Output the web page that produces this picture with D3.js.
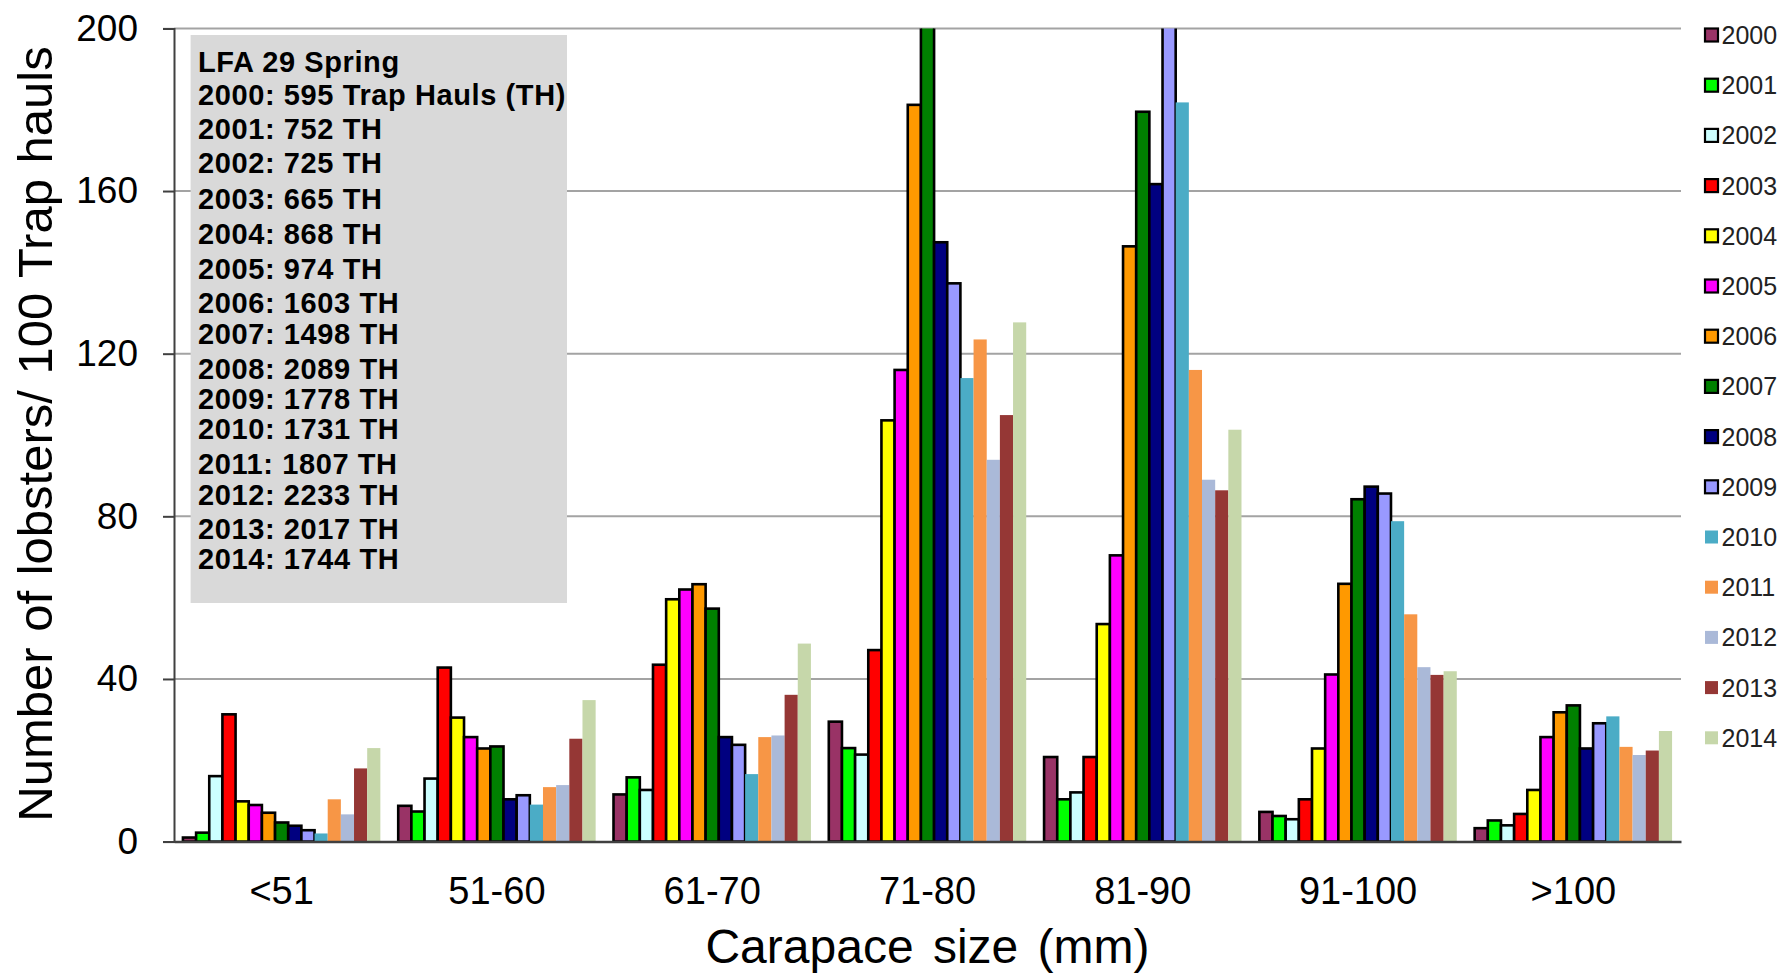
<!DOCTYPE html>
<html>
<head>
<meta charset="utf-8">
<script src="https://cdn.jsdelivr.net/npm/d3@7"></script>
<style>
  html, body { margin: 0; padding: 0; background: #ffffff; }
  svg { display: block; }
  text { font-family: "Liberation Sans", Arial, Helvetica, sans-serif; }
</style>
</head>
<body>
<svg id="chart" width="1781" height="979"></svg>
<script>
// ---------------- DATA ----------------
const categories = ["<51", "51-60", "61-70", "71-80", "81-90", "91-100", ">100"];
const years = ["2000","2001","2002","2003","2004","2005","2006","2007","2008","2009","2010","2011","2012","2013","2014"];

// Number of lobsters / 100 trap hauls, per carapace class (order of categories)
const v2000 = [1.0, 8.8, 11.6, 29.5, 20.8, 7.3, 3.3];
const v2001 = [2.2, 7.4, 15.8, 23.0, 10.4, 6.3, 5.2];
const v2002 = [16.1, 15.5, 12.7, 21.4, 12.1, 5.5, 4.0];
const v2003 = [31.3, 42.8, 43.5, 47.1, 20.8, 10.4, 6.8];
const v2004 = [9.9, 30.5, 59.6, 103.6, 53.5, 22.9, 12.7];
const v2005 = [9.0, 25.7, 62.0, 116.0, 70.4, 41.1, 25.7];
const v2006 = [7.1, 22.9, 63.3, 181.2, 146.4, 63.4, 31.8];
const v2007 = [4.7, 23.4, 57.3, 205.0, 179.5, 84.2, 33.5];   // 71-80 runs off the top of the axis
const v2008 = [3.9, 10.4, 25.7, 147.4, 161.7, 87.3, 22.9];
const v2009 = [2.8, 11.4, 23.8, 137.3, 205.0, 85.6, 29.1];   // 81-90 runs off the top of the axis
const v2010 = [2.0, 9.1, 16.6, 114.0, 181.8, 78.8, 30.8];
const v2011 = [10.4, 13.4, 25.7, 123.5, 116.0, 55.9, 23.3];
const v2012 = [6.7, 13.9, 26.1, 93.9, 89.0, 42.9, 21.3];
const v2013 = [18.0, 25.3, 36.1, 104.9, 86.4, 41.0, 22.4];
const v2014 = [23.0, 34.8, 48.7, 127.7, 101.3, 41.9, 27.2];

const yTicks = [0, 40, 80, 120, 160, 200];

const boxTitle = "LFA 29 Spring";
const trapHauls = [
  "2000: 595 Trap Hauls (TH)",
  "2001: 752 TH", "2002: 725 TH", "2003: 665 TH", "2004: 868 TH",
  "2005: 974 TH", "2006: 1603 TH", "2007: 1498 TH", "2008: 2089 TH",
  "2009: 1778 TH", "2010: 1731 TH", "2011: 1807 TH", "2012: 2233 TH",
  "2013: 2017 TH", "2014: 1744 TH"
];

const xTitle = "Carapace size (mm)";
const yTitle = "Number of lobsters/ 100 Trap hauls";

// ---------------- STYLE / LAYOUT ----------------
const colors = ["#993366","#00FF00","#CCFFFF","#FF0000","#FFFF00","#FF00FF","#FF9900","#008000",
                "#000080","#9999FF","#4BACC6","#F79646","#AAB9D8","#953735","#C6D7AA"];
const outlined = years.map((y, i) => i < 10);   // 2000-2009 have black borders

const seriesVals = [v2000,v2001,v2002,v2003,v2004,v2005,v2006,v2007,v2008,v2009,v2010,v2011,v2012,v2013,v2014];

const plot = { left: 174, right: 1681, top: 28.4, bottom: 841.6 };
// text-box line baselines (irregular in the original)
const boxBaselines = [72, 105, 139, 173, 209, 243.5, 278.5, 312.5, 343.5, 378.5, 409, 439, 474, 505, 539, 568.5];

// ---------------- CHART ----------------
const svg = d3.select("#chart");

const x0 = d3.scaleBand().domain(categories)
  .range([plot.left, plot.right]).paddingInner(0.083).paddingOuter(0.0415);
const x1 = d3.scaleBand().domain(years).range([0, x0.bandwidth()]).padding(0);
const y = d3.scaleLinear().domain([0, 200]).range([plot.bottom, plot.top]);

// gridlines
svg.append("g").selectAll("line").data(yTicks.filter(d => d > 0)).join("line")
  .attr("x1", plot.left).attr("x2", plot.right)
  .attr("y1", d => y(d)).attr("y2", d => y(d))
  .attr("stroke", "#a3a3a3").attr("stroke-width", 2);

// text box
const box = svg.append("g");
box.append("rect").attr("x", 190.6).attr("y", 35).attr("width", 376.4).attr("height", 568)
  .attr("fill", "#d9d9d9");
box.selectAll("text").data([boxTitle].concat(trapHauls)).join("text")
  .attr("x", 198).attr("y", (d, i) => boxBaselines[i])
  .attr("font-size", 29).attr("font-weight", "bold").attr("fill", "#000")
  .attr("letter-spacing", 0.6)
  .text(d => d);

// clip for bars
svg.append("defs").append("clipPath").attr("id", "plotclip")
  .append("rect").attr("x", plot.left - 5).attr("y", plot.top)
  .attr("width", plot.right - plot.left + 10).attr("height", plot.bottom - plot.top + 10);

// bars
const barData = [];
categories.forEach((c, ci) => {
  years.forEach((yr, si) => {
    barData.push({ cat: c, year: yr, si: si, value: seriesVals[si][ci] });
  });
});

svg.append("g").attr("clip-path", "url(#plotclip)")
  .selectAll("rect").data(barData).join("rect")
  .attr("x", d => x0(d.cat) + x1(d.year))
  .attr("width", x1.bandwidth())
  .attr("y", d => y(d.value))
  .attr("height", d => y(0) - y(d.value))
  .attr("fill", d => colors[d.si])
  .attr("stroke", d => outlined[d.si] ? "#000" : "none")
  .attr("stroke-width", 2.6);

// y axis
const yAxis = d3.axisLeft(y).tickValues(yTicks).tickSize(11).tickPadding(25).tickFormat(d3.format("d"));
const gy = svg.append("g").attr("transform", `translate(${plot.left},0)`).call(yAxis);
gy.select(".domain").attr("stroke", "#404040").attr("stroke-width", 2);
gy.selectAll(".tick line").attr("stroke", "#404040").attr("stroke-width", 2);
gy.selectAll(".tick text").attr("font-size", 37).attr("fill", "#000")
  .attr("font-family", "'Liberation Sans', Arial, sans-serif");

// x axis
const xAxis = d3.axisBottom(x0).tickSize(0).tickPadding(0);
const gx = svg.append("g").attr("transform", `translate(0,${plot.bottom})`).call(xAxis);
gx.select(".domain").attr("stroke", "#404040").attr("stroke-width", 2.5);
gx.selectAll(".tick text").attr("font-size", 38).attr("fill", "#000")
  .attr("font-family", "'Liberation Sans', Arial, sans-serif")
  .attr("dy", null).attr("y", 62);

// axis titles
svg.append("text").attr("x", (plot.left + plot.right) / 2).attr("y", 963)
  .attr("text-anchor", "middle").attr("font-size", 48).attr("fill", "#000")
  .attr("word-spacing", 6)
  .text(xTitle);
svg.append("text").attr("transform", `translate(52,434) rotate(-90)`)
  .attr("text-anchor", "middle").attr("font-size", 49).attr("fill", "#000")
  .attr("word-spacing", 2)
  .text(yTitle);

// legend
const legend = svg.append("g");
const lg = legend.selectAll("g").data(years).join("g")
  .attr("transform", (d, i) => `translate(1705, ${35 + i * 50.2})`);
lg.append("rect").attr("x", 0).attr("y", -6.5).attr("width", 13).attr("height", 13)
  .attr("fill", (d, i) => colors[i])
  .attr("stroke", (d, i) => outlined[i] ? "#000" : "none").attr("stroke-width", 2.2);
lg.append("text").attr("x", 16.5).attr("y", 0).attr("dy", "0.36em")
  .attr("font-size", 25).attr("fill", "#222").text(d => d);
</script>
</body>
</html>
